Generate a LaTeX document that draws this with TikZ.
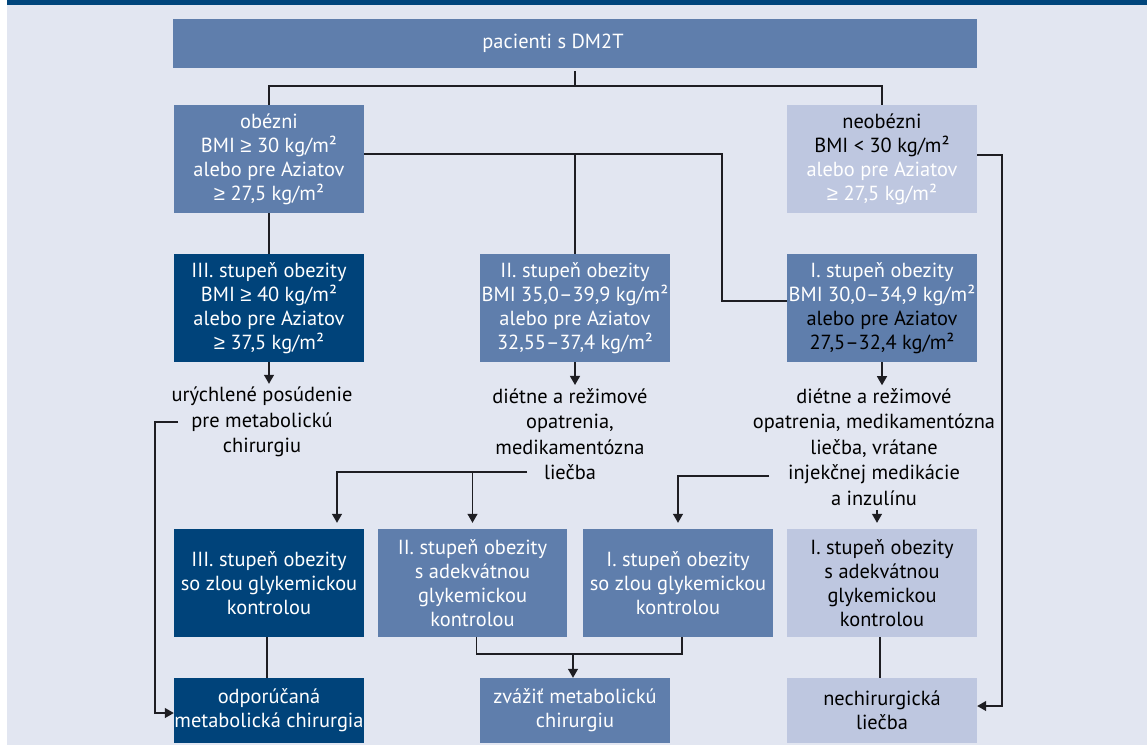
\documentclass[tikz,border=0pt]{standalone}
\usepackage{fontspec}
\setmainfont{PT Sans}
\newfontfamily\symfont{Liberation Sans}
\usetikzlibrary{arrows.meta}
\definecolor{bgc}{RGB}{226,230,241}
\definecolor{bandc}{RGB}{0,69,124}
\definecolor{midc}{RGB}{95,126,172}
\definecolor{darkc}{RGB}{0,67,122}
\definecolor{lightc}{RGB}{190,199,224}
\definecolor{linec}{RGB}{30,30,35}
\tikzset{
  fbox/.style={rectangle, inner sep=0pt, align=center, minimum width=190pt, minimum height=108pt,
    font=\fontsize{20.4}{24}\selectfont},
  midbox/.style={fbox, fill=midc, text=white},
  darkbox/.style={fbox, fill=darkc, text=white},
  lightbox/.style={fbox, fill=lightc, text=black},
  lowbox/.style={minimum height=65pt},
  ftext/.style={inner sep=0pt, align=center, font=\fontsize{20.4}{25.5}\selectfont, text=black},
  conn/.style={draw=linec, line width=1.2pt},
  arr/.style={conn, -{Triangle[length=9pt,width=10pt]}},
}
\newcommand{\sq}{²}
\newcommand{\gesym}{{\symfont ≥}}
\begin{document}
\begin{tikzpicture}[x=1pt,y=-1pt]
\useasboundingbox (0,0) rectangle (1147,745);
\fill[white] (0,0) rectangle (1147,745);
\fill[bgc] (7,0) rectangle (1147,745);
\fill[bandc] (7,0) rectangle (1147,5);

% top
\node[midbox, minimum width=804pt, minimum height=49pt] (top) at (575,43.5) {\hspace*{-44pt}pacienti s DM2T};

% row 1
\node[midbox] (obez) at (269,159) {obézni\\BMI \gesym{} 30 kg/m\sq\\alebo pre Aziatov\\\gesym{} 27,5 kg/m\sq};
\node[lightbox] (neob) at (882,159) {neobézni\\BMI < 30 kg/m\sq\\\textcolor{white}{alebo pre Aziatov}\\\textcolor{white}{\gesym{} 27,5 kg/m\sq}};

% row 2
\node[darkbox] (III) at (269,308) {III. stupeň obezity\\BMI \gesym{} 40 kg/m\sq\\alebo pre Aziatov\\\gesym{} 37,5 kg/m\sq};
\node[midbox] (II) at (575,308) {II. stupeň obezity\\BMI 35,0–39,9 kg/m\sq\\alebo pre Aziatov\\32,55–37,4 kg/m\sq};
\node[midbox] (I) at (882,308) {I. stupeň obezity\\BMI 30,0–34,9 kg/m\sq\\\textcolor{black}{alebo pre Aziatov}\\\textcolor{black}{27,5–32,4 kg/m\sq}};

% free texts
\node[ftext] (urych) at (262,422) {urýchlené posúdenie\\pre metabolickú\\chirurgiu};
\node[ftext] (mtext) at (570,434) {diétne a režimové\\opatrenia,\\medikamentózna\\liečba};
\node[ftext] (rtext) at (874,447) {diétne a režimové\\opatrenia, medikamentózna\\liečba, vrátane\\injekčnej medikácie\\a inzulínu};

% row 3
\node[darkbox] (IIIz) at (269,583) {III. stupeň obezity\\so zlou glykemickou\\kontrolou};
\node[midbox, minimum width=189pt] (IIa) at (472.5,583) {II. stupeň obezity\\s adekvátnou\\glykemickou\\kontrolou};
\node[midbox] (Iz) at (678,583) {I. stupeň obezity\\so zlou glykemickou\\kontrolou};
\node[lightbox] (Ia) at (882,583) {I. stupeň obezity\\s adekvátnou\\glykemickou\\kontrolou};

% row 4
\node[darkbox, lowbox] (odp) at (269,710.5) {odporúčaná\\metabolická chirurgia};
\node[midbox, lowbox] (zvaz) at (575,710.5) {zvážiť metabolickú\\chirurgiu};
\node[lightbox, lowbox] (nech) at (882,710.5) {nechirurgická\\liečba};

% helper coordinates
\coordinate (j1) at (575,86);
\coordinate (k1) at (722,154);
\coordinate (k2) at (1002,155);
\coordinate (c1) at (178,422);
\coordinate (k3) at (155,422);
\coordinate (c2) at (527,472);
\coordinate (c3) at (769,476);
\coordinate (k4) at (573,654);

% connectors
\draw[conn] ([yshift=-3pt]top.south) -- (j1);
\draw[conn] (obez.north) |- (j1) -| (neob.north);
\draw[conn] ([yshift=5pt]obez.east) -- (k1) |- ([yshift=7pt]I.west);
\draw[conn] (II.north) -- (II.north |- k1);
\draw[conn] (obez.south) -- (III.north);
\draw[arr] ([yshift=4pt]neob.east) -- (k2) |- ([yshift=4.5pt]nech.east);

\draw[arr] (III.south) -- ([yshift=3pt]III.south |- urych.north);
\draw[arr] (II.south) -- ([yshift=3pt]II.south |- mtext.north);
\draw[arr] (I.south) -- ([yshift=3pt]I.south |- rtext.north);

\draw[arr] (c1) -- (k3) |- ([yshift=-2.5pt]odp.west);
\draw[arr, shorten >=6pt] (c2) -| ([xshift=68pt]IIIz.north);
\draw[arr, shorten >=6pt] (IIa.north |- c2) -- (IIa.north);
\draw[arr, shorten >=6pt] (c3) -| (Iz.north);
\draw[arr, shorten >=6pt] ([xshift=3pt,yshift=-4pt]rtext.south) -- ([xshift=3pt]rtext.south |- Ia.north);

\draw[conn] ([xshift=-2pt]IIIz.south) -- ([xshift=-2pt]odp.north);
\draw[conn] ([xshift=4pt]IIa.south) |- (k4) -| ([xshift=4pt]Iz.south);
\draw[arr] (k4) -- (k4 |- zvaz.north);
\draw[conn] ([xshift=-2pt]Ia.south) -- ([xshift=-2pt]nech.north);
\end{tikzpicture}
\end{document}
